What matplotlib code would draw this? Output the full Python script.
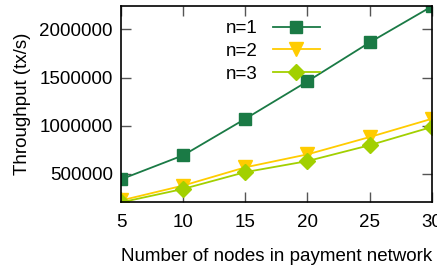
import matplotlib.pyplot as plt
from matplotlib.ticker import FixedFormatter

plt.rcParams['font.family'] = ['Liberation Sans', 'DejaVu Sans']

nodes = [5, 10, 15, 20, 25, 30]
n1 = [440000, 690000, 1070000, 1460000, 1865000, 2240000]
n2 = [220000, 375000, 565000, 700000, 880000, 1070000]
n3 = [200000, 340000, 515000, 630000, 795000, 985000]
yticks = [500000, 1000000, 1500000, 2000000]
xticks = [5, 10, 15, 20, 25, 30]

fig = plt.figure(figsize=(4.37, 2.71), dpi=100)
ax = fig.add_axes([0.277, 0.255, 0.711, 0.723])

ax.plot(nodes, n1, color='#1a7a45', marker='s', markersize=8.5, lw=1.3, label='n=1')
ax.plot(nodes, n2, color='#ffcc00', marker='v', markersize=10, lw=1.3, label='n=2')
ax.plot(nodes, n3, color='#a2d000', marker='D', markersize=8.5, lw=1.3, label='n=3')

ax.set_xlim(5, 30)
ax.set_ylim(205000, 2245000)
ax.set_xticks(xticks)
ax.set_yticks(yticks)
ax.yaxis.set_major_formatter(FixedFormatter([str(v) for v in yticks]))
ax.tick_params(direction='in', length=7, width=1, color='#555555',
               labelsize=13.5, top=True, right=True, pad=6)
ax.tick_params(axis='x', pad=9)
ax.set_xlabel('Number of nodes in payment network', fontsize=13.5, labelpad=12)
ax.set_ylabel('Throughput (tx/s)', fontsize=13.5)
ax.yaxis.set_label_coords(-0.29, 0.5)
for s in ax.spines.values():
    s.set_linewidth(1.2)

ax.legend(loc='upper left', bbox_to_anchor=(0.295, 0.995), frameon=False, markerfirst=False,
          fontsize=13.5, handlelength=2.5, labelspacing=0.3, handletextpad=0.8,
          borderaxespad=0.3)

fig.savefig('out.png', dpi=100)
